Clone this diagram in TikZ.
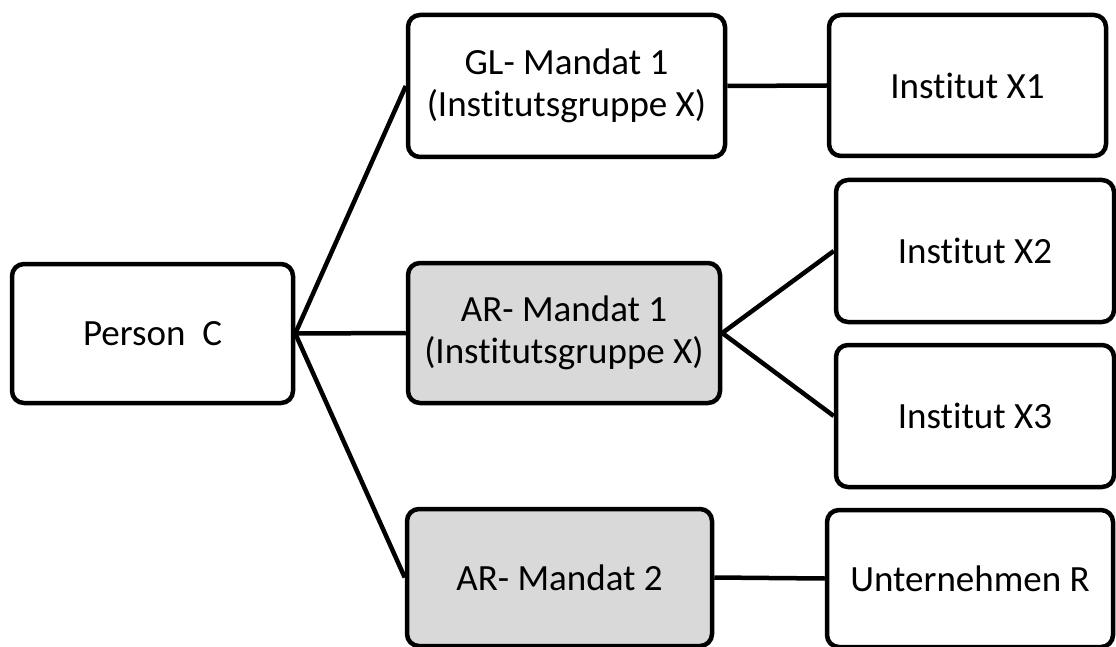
\documentclass[tikz,border=0pt]{standalone}
\usepackage{fontspec}
\setmainfont{Carlito}[Ligatures={NoCommon}]
\begin{document}
\begin{tikzpicture}[x=1pt,y=-1pt,
  box/.style={draw=black, line width=4.5pt, rounded corners=12pt, fill=white, inner sep=0pt, align=center, font=\fontsize{37}{42}\selectfont},
  greybox/.style={box, fill=boxgrey},
  link/.style={draw=black, line width=4.5pt}]
\definecolor{boxgrey}{HTML}{D9D9D9}
\useasboundingbox (0,0) rectangle (1116,647);
\node[box, minimum width=281pt, minimum height=139pt] (pc) at (152.5,333.5) {Person\ \ C};
\node[box, minimum width=317pt, minimum height=142pt] (gl) at (566.5,86) {GL- Mandat 1\\(Institutsgruppe X)};
\node[greybox, minimum width=312pt, minimum height=140pt] (ar1) at (564,333) {AR- Mandat 1\\(Institutsgruppe X)};
\node[greybox, minimum width=305pt, minimum height=137pt] (ar2) at (559.5,577.5) {AR- Mandat 2};
\node[box, minimum width=277pt, minimum height=141pt] (x1) at (967.5,85.5) {Institut X1};
\node[box, minimum width=278pt, minimum height=142pt] (x2) at (975,251) {Institut X2};
\node[box, minimum width=278pt, minimum height=142pt] (x3) at (975,416) {Institut X3};
\node[box, minimum width=286pt, minimum height=137pt] (ur) at (970,578.5) {Unternehmen R};
\draw[link] (pc.east) -- (gl.west);
\draw[link] (pc.east) -- (ar1.west);
\draw[link] (pc.east) -- (ar2.west);
\draw[link] (gl.east) -- (x1.west);
\draw[link] (ar1.east) -- (x2.west);
\draw[link] (ar1.east) -- (x3.west);
\draw[link] (ar2.east) -- (ur.west);
\end{tikzpicture}
\end{document}
